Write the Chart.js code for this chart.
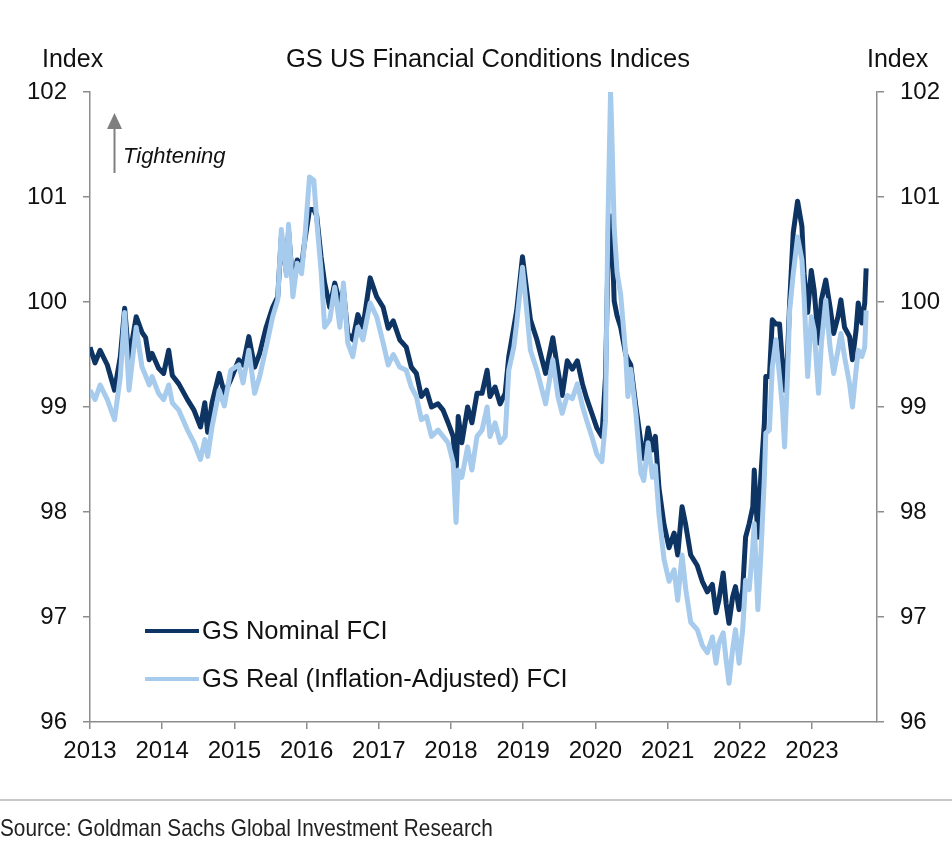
<!DOCTYPE html>
<html>
<head>
<meta charset="utf-8">
<title>GS US Financial Conditions Indices</title>
<script src="https://cdn.jsdelivr.net/npm/chart.js@4.4.1/dist/chart.umd.min.js"></script>
<style>
    body { margin: 0; background: #fff; font-family: 'Liberation Sans', Arial, sans-serif; color: #111; }
    #page { position: relative; width: 952px; height: 846px; overflow: hidden; }
    #fci { position: absolute; left: 0; top: 0; }
    .txt { position: absolute; line-height: 1; white-space: nowrap; }
    .title { font-size: 25.5px; left: 0; width: 976px; text-align: center; top: 46px; }
    .unit { font-size: 25px; top: 46px; }
    .tight { font-size: 22px; font-style: italic; left: 123px; top: 145px; }
    .legend-row { position: absolute; left: 145px; height: 26px; }
    .legend-row .swatch { position: absolute; left: 0; top: 11px; width: 54px; height: 4px; }
    .legend-row .label { position: absolute; left: 57px; top: 0; font-size: 25.5px; line-height: 1; white-space: nowrap; }
    .rule { position: absolute; left: 0; top: 799px; width: 952px; height: 2px; background: #c9c9c9; }
    .source { font-size: 24px; left: 0; top: 816px; transform: scaleX(0.865); transform-origin: 0 0; color: #222; }
</style>
</head>
<body>
<div id="page">
    <canvas id="fci" width="952" height="846"></canvas>
    <div class="txt unit" style="left:42px">Index</div>
    <div class="txt title">GS US Financial Conditions Indices</div>
    <div class="txt unit" style="left:867px">Index</div>
    <svg style="position:absolute;left:100px;top:108px" width="30" height="70">
        <line x1="14.5" y1="20" x2="14.5" y2="65" stroke="#7f7f7f" stroke-width="2"/>
        <polygon points="7,21 22,21 14.5,5" fill="#7f7f7f"/>
    </svg>
    <div class="txt tight">Tightening</div>
    <div id="legend"></div>
    <div class="rule"></div>
    <div class="txt source">Source: Goldman Sachs Global Investment Research</div>
</div>
<script>
// decimal years
const dates = [
    2013.00, 2013.07, 2013.14, 2013.24, 2013.34, 2013.42, 2013.48, 2013.54, 2013.64, 2013.72, 2013.77, 2013.82, 2013.86, 2013.95,
    2014.02, 2014.09, 2014.14, 2014.23, 2014.35, 2014.44, 2014.53, 2014.59, 2014.63, 2014.69, 2014.79, 2014.86, 2014.95,
    2015.06, 2015.12, 2015.20, 2015.28, 2015.35, 2015.44, 2015.53, 2015.60, 2015.65, 2015.72, 2015.75, 2015.81, 2015.87, 2015.93, 2015.97,
    2016.04, 2016.10, 2016.14, 2016.20, 2016.25, 2016.32, 2016.39, 2016.46, 2016.51, 2016.57, 2016.64, 2016.71, 2016.78, 2016.88, 2016.97,
    2017.06, 2017.13, 2017.20, 2017.29, 2017.38, 2017.45, 2017.52, 2017.59, 2017.66, 2017.73, 2017.82, 2017.89, 2017.96,
    2018.03, 2018.07, 2018.10, 2018.15, 2018.23, 2018.29, 2018.36, 2018.43, 2018.50, 2018.54, 2018.61, 2018.68, 2018.75, 2018.80, 2018.87, 2018.91, 2018.99,
    2019.03, 2019.10, 2019.19, 2019.31, 2019.41, 2019.48, 2019.54, 2019.61, 2019.68, 2019.75, 2019.82, 2019.88, 2019.95,
    2020.02, 2020.09, 2020.14, 2020.17, 2020.21, 2020.23, 2020.26, 2020.30, 2020.35, 2020.42, 2020.45, 2020.49, 2020.56, 2020.63, 2020.67, 2020.73, 2020.79, 2020.83, 2020.88, 2020.95,
    2021.02, 2021.09, 2021.14, 2021.20, 2021.25, 2021.32, 2021.41, 2021.48, 2021.55, 2021.62, 2021.67, 2021.71, 2021.77, 2021.81, 2021.85, 2021.90, 2021.94, 2021.99,
    2022.04, 2022.08, 2022.13, 2022.18, 2022.20, 2022.25, 2022.29, 2022.34, 2022.36, 2022.41, 2022.45, 2022.50, 2022.55, 2022.59, 2022.62, 2022.66, 2022.69, 2022.74, 2022.80, 2022.86, 2022.89, 2022.94, 2022.99,
    2023.03, 2023.09, 2023.13, 2023.19, 2023.25, 2023.30, 2023.36, 2023.40, 2023.45, 2023.52, 2023.56, 2023.61, 2023.64, 2023.69, 2023.73, 2023.75
];

const nominalFci = [
    99.57, 99.42, 99.54, 99.40, 99.16, 99.48, 99.94, 99.45, 99.86, 99.71, 99.66, 99.45, 99.51, 99.37,
    99.32, 99.54, 99.30, 99.22, 99.07, 98.97, 98.81, 99.04, 98.76, 99.04, 99.32, 99.13, 99.26,
    99.45, 99.40, 99.67, 99.38, 99.51, 99.76, 99.95, 100.05, 100.62, 100.28, 100.68, 100.15, 100.40, 100.34, 100.56,
    100.88, 100.88, 100.82, 100.43, 100.18, 99.95, 100.18, 99.99, 100.12, 99.70, 99.64, 99.88, 99.76, 100.23, 100.05,
    99.95, 99.75, 99.82, 99.64, 99.57, 99.38, 99.32, 99.10, 99.16, 99.00, 99.03, 98.97, 98.85,
    98.72, 98.37, 98.91, 98.66, 99.00, 98.85, 99.13, 99.13, 99.35, 99.10, 99.19, 99.03, 99.13, 99.48, 99.76, 99.92, 100.43,
    100.21, 99.83, 99.64, 99.32, 99.66, 99.35, 99.11, 99.44, 99.36, 99.44, 99.22, 99.08, 98.94,
    98.80, 98.72, 99.29, 100.28, 100.82, 100.64, 100.01, 99.87, 99.76, 99.50, 99.45, 99.40, 99.01, 98.66, 98.51, 98.80, 98.59, 98.72, 98.23, 97.88,
    97.66, 97.80, 97.59, 98.05, 97.88, 97.59, 97.49, 97.34, 97.24, 97.31, 97.04, 97.16, 97.42, 97.13, 96.94, 97.19, 97.29, 97.07,
    97.26, 97.76, 97.89, 98.05, 98.40, 97.76, 98.33, 98.85, 99.29, 99.29, 99.83, 99.79, 99.79, 99.42, 99.16, 99.48, 99.99, 100.66, 100.96, 100.72, 100.27, 99.90, 100.30,
    100.11, 99.61, 100.02, 100.21, 99.95, 99.70, 99.86, 100.02, 99.76, 99.67, 99.45, 99.73, 99.99, 99.80, 99.99, 100.32
];

const realFci = [
    99.16, 99.07, 99.21, 99.07, 98.88, 99.29, 99.90, 99.16, 99.76, 99.38, 99.30, 99.21, 99.29, 99.13,
    99.07, 99.21, 99.04, 98.97, 98.78, 98.66, 98.50, 98.69, 98.53, 98.81, 99.16, 99.01, 99.35,
    99.40, 99.23, 99.54, 99.13, 99.29, 99.57, 99.86, 100.02, 100.69, 100.25, 100.74, 100.05, 100.37, 100.27, 100.56,
    101.19, 101.16, 100.78, 100.30, 99.76, 99.83, 100.14, 99.76, 100.18, 99.61, 99.48, 99.76, 99.64, 99.99, 99.86,
    99.61, 99.40, 99.50, 99.38, 99.35, 99.19, 99.10, 98.88, 98.91, 98.72, 98.78, 98.72, 98.66,
    98.47, 97.90, 98.40, 98.33, 98.62, 98.40, 98.72, 98.78, 99.00, 98.72, 98.85, 98.66, 98.72, 99.35, 99.57, 99.80, 100.33,
    100.05, 99.54, 99.35, 99.03, 99.45, 99.10, 98.94, 99.11, 99.08, 99.22, 99.01, 98.87, 98.72,
    98.55, 98.48, 98.87, 100.65, 102.00, 101.53, 100.71, 100.28, 100.07, 99.50, 99.10, 99.36, 98.94, 98.37, 98.30, 98.66, 98.33, 98.44, 97.98, 97.55,
    97.34, 97.45, 97.16, 97.59, 97.27, 96.95, 96.88, 96.73, 96.66, 96.81, 96.56, 96.75, 96.85, 96.59, 96.37, 96.69, 96.88, 96.56,
    96.88, 97.35, 97.26, 97.67, 97.89, 97.07, 97.57, 98.33, 98.75, 98.78, 99.38, 99.64, 99.29, 99.00, 98.62, 99.29, 99.92, 100.27, 100.62, 100.40, 100.05, 99.29, 99.86,
    99.73, 99.13, 99.61, 100.02, 99.57, 99.32, 99.54, 99.70, 99.48, 99.22, 99.00, 99.35, 99.54, 99.48, 99.57, 99.92
];

const yearLabels = [2013, 2014, 2015, 2016, 2017, 2018, 2019, 2020, 2021, 2022, 2023];
const indexTicks = [96, 97, 98, 99, 100, 101, 102];

const NAVY = '#0d3463';
const SKY = '#a6cbec';
const AXIS = '#8c8c8c';

Chart.defaults.font.family = "'Liberation Sans', Arial, sans-serif";
Chart.defaults.color = '#111';

function toPoints(values) {
    return dates.map((d, i) => ({ x: d, y: values[i] }));
}

function indexAxis(position, width) {
    return {
        position,
        min: 96,
        max: 102,
        afterBuildTicks: s => { s.ticks = indexTicks.map(v => ({ value: v })); },
        afterFit: s => { s.width = width; },
        ticks: { font: { size: 24 }, color: '#111', padding: 16, callback: v => String(v) },
        grid: { drawOnChartArea: false, drawTicks: true, tickLength: 7, color: AXIS, lineWidth: 1.5 },
        border: { display: true, color: AXIS, width: 1.5 }
    };
}

const chart = new Chart(document.getElementById('fci'), {
    type: 'line',
    data: {
        datasets: [
            {
                label: 'GS Nominal FCI',
                data: toPoints(nominalFci),
                borderColor: NAVY,
                borderWidth: 5,
                borderJoinStyle: 'round',
                pointRadius: 0,
                tension: 0,
                order: 2
            },
            {
                label: 'GS Real (Inflation-Adjusted) FCI',
                data: toPoints(realFci),
                borderColor: SKY,
                borderWidth: 5,
                borderJoinStyle: 'round',
                pointRadius: 0,
                tension: 0,
                order: 1
            }
        ]
    },
    options: {
        responsive: false,
        animation: false,
        layout: { padding: { top: 92, left: 0, right: 0, bottom: 0 } },
        plugins: { legend: { display: false }, tooltip: { enabled: false } },
        scales: {
            x: {
                type: 'linear',
                min: 2013,
                max: 2023.9,
                afterBuildTicks: s => { s.ticks = yearLabels.map(v => ({ value: v })); },
                afterFit: s => { s.height = 124; },
                ticks: { font: { size: 24 }, color: '#111', padding: 8, maxRotation: 0, autoSkip: false, callback: v => String(v) },
                grid: { drawOnChartArea: false, drawTicks: true, tickLength: 7, color: AXIS, lineWidth: 1.5 },
                border: { display: true, color: AXIS, width: 1.5 }
            },
            y: indexAxis('left', 90),
            y2: indexAxis('right', 75)
        }
    }
});

// legend as page text, taken from the datasets
const legend = document.getElementById('legend');
chart.data.datasets.forEach((ds, i) => {
    const row = document.createElement('div');
    row.className = 'legend-row';
    row.style.top = (618 + i * 48) + 'px';
    row.innerHTML = '<div class="swatch" style="background:' + ds.borderColor + '"></div><div class="label"></div>';
    row.querySelector('.label').textContent = ds.label;
    legend.appendChild(row);
});
</script>
</body>
</html>
